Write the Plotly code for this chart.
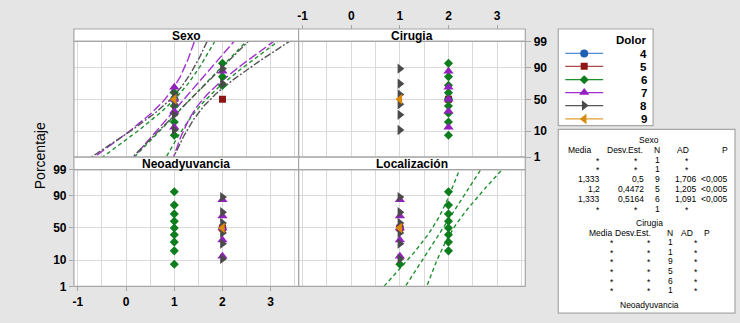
import math
from statistics import NormalDist
import plotly.graph_objects as go

W, H = 740, 323

# ---------------- data ----------------
dolor_levels = ["4", "5", "6", "7", "8", "9"]
panel_titles = ["Sexo", "Cirugia", "Neoadyuvancia", "Localización"]

# plotting positions (percent), per group size
pct_n1 = [50.0]
pct_n5 = [13.0, 31.5, 50.0, 68.5, 87.0]
pct_n6 = [10.9, 26.6, 42.2, 57.8, 73.4, 89.1]
pct_n9 = [7.4, 18.1, 28.7, 39.4, 50.0, 60.6, 71.3, 81.9, 92.6]

# observed values per panel and Dolor group
sexo_d4 = [1]
sexo_d5 = [2]
sexo_d6 = [1, 1, 1, 1, 1, 1, 2, 2, 2]
sexo_d7 = [1, 1, 1, 1, 2]
sexo_d8 = [1, 1, 1, 1, 2, 2]
sexo_d9 = [1]

cirugia_d4 = [2]
cirugia_d5 = [2]
cirugia_d6 = [2, 2, 2, 2, 2, 2, 2, 2, 2]
cirugia_d7 = [2, 2, 2, 2, 2]
cirugia_d8 = [1, 1, 1, 1, 1, 1]
cirugia_d9 = [1]

neo_d4 = [2]
neo_d5 = [2]
neo_d6 = [1, 1, 1, 1, 1, 1, 1, 1, 1]
neo_d7 = [2, 2, 2, 2, 2]
neo_d8 = [2, 2, 2, 2, 2, 2]
neo_d9 = [2]

loc_d4 = [1]
loc_d5 = [1]
loc_d6 = [1, 2, 2, 2, 2, 2, 2, 2, 2]
loc_d7 = [1, 1, 1, 1, 1]
loc_d8 = [1, 1, 1, 1, 1, 1]
loc_d9 = [1]

# fitted normal parameters (groups with spread)
sexo_fit_groups = ["6", "7", "8"]
sexo_fit_mean = [1.333, 1.2, 1.333]
sexo_fit_sd = [0.5, 0.4472, 0.5164]
sexo_fit_n = [9, 5, 6]

loc_fit_groups = ["6"]
loc_fit_mean = [1.889]
loc_fit_sd = [0.3333]
loc_fit_n = [9]

# statistics table text
sexo_media = ["*", "*", "1,333", "1,2", "1,333", "*"]
sexo_desv = ["*", "*", "0,5", "0,4472", "0,5164", "*"]
sexo_n = ["1", "1", "9", "5", "6", "1"]
sexo_ad = ["*", "*", "1,706", "1,205", "1,091", "*"]
sexo_p = ["", "", "<0,005", "<0,005", "<0,005", ""]

cir_media = ["*", "*", "*", "*", "*", "*"]
cir_desv = ["*", "*", "*", "*", "*", "*"]
cir_n = ["1", "1", "9", "5", "6", "1"]
cir_ad = ["*", "*", "*", "*", "*", "*"]

prob_ticks = [1, 10, 50, 90, 99]
x_ticks = [-1, 0, 1, 2, 3]

# ---------------- styles ----------------
mcolor = {"4": "#1f5fb4", "5": "#8e1616", "6": "#0d7d1d", "7": "#9420c0",
          "8": "#4a4a4a", "9": "#d98a0a"}
lcolor = {"4": "#4f8fd6", "5": "#b04848", "6": "#1f8f2f", "7": "#a030d0",
          "8": "#555555", "9": "#e0a030"}
msym = {"4": "circle", "5": "square", "6": "diamond", "7": "triangle-up",
        "8": "triangle-right", "9": "triangle-left"}
msize = {"4": 8, "5": 7, "6": 7, "7": 9, "8": 9, "9": 9}
ldash = {"6": "4px,3px", "7": "9px,3px", "8": "7px,2px,2px,2px"}

GRID = "#dadada"
BORDER = "#a6a6a6"
nd = NormalDist()


def z(p):
    return nd.inv_cdf(p / 100.0)


def px(x):
    return x / W


def py(y):
    return 1 - y / H


pct_for = {1: pct_n1, 5: pct_n5, 6: pct_n6, 9: pct_n9}

panel_data = [
    [sexo_d4, sexo_d5, sexo_d6, sexo_d7, sexo_d8, sexo_d9],
    [cirugia_d4, cirugia_d5, cirugia_d6, cirugia_d7, cirugia_d8, cirugia_d9],
    [neo_d4, neo_d5, neo_d6, neo_d7, neo_d8, neo_d9],
    [loc_d4, loc_d5, loc_d6, loc_d7, loc_d8, loc_d9],
]
panel_fits = [
    (sexo_fit_groups, sexo_fit_mean, sexo_fit_sd, sexo_fit_n),
    ([], [], [], []),
    ([], [], [], []),
    (loc_fit_groups, loc_fit_mean, loc_fit_sd, loc_fit_n),
]

# layout geometry (pixels)
XL = [73, 298, 525]
TOP_HDR = (23, 36)
TOP_PLOT = (36, 157)
BOT_HDR = (157, 170)
BOT_PLOT = (170, 292)
xdom = [(XL[0], XL[1]), (XL[1], XL[2]), (XL[0], XL[1]), (XL[1], XL[2])]
ydom = [TOP_PLOT, TOP_PLOT, BOT_PLOT, BOT_PLOT]
hdr = [TOP_HDR, TOP_HDR, BOT_HDR, BOT_HDR]

XR = [-1.083, 3.58]
ZR = [z(1), z(99)]

fig = go.Figure()

zgrid = [ZR[0] - 0.2 + i * (ZR[1] - ZR[0] + 0.4) / 80 for i in range(81)]

for k in range(4):
    ax = "" if k == 0 else str(k + 1)
    xa, ya = "x" + ax, "y" + ax
    groups, means, sds, ns = panel_fits[k]
    for g, m, s, n in zip(groups, means, sds, ns):
        cen = [m + s * zz for zz in zgrid]
        hw = [1.96 * s * math.sqrt(1.0 / n + zz * zz / (2.0 * (n - 1))) for zz in zgrid]
        for xs in (cen, [c - h for c, h in zip(cen, hw)], [c + h for c, h in zip(cen, hw)]):
            fig.add_trace(go.Scatter(
                x=xs, y=zgrid, xaxis=xa, yaxis=ya, mode="lines",
                line=dict(color=lcolor[g], width=1.4, dash=ldash[g]),
                hoverinfo="skip", showlegend=False))
    for g, vals in zip(dolor_levels, panel_data[k]):
        pcts = pct_for[len(vals)]
        fig.add_trace(go.Scatter(
            x=vals, y=[z(p) for p in pcts], xaxis=xa, yaxis=ya, mode="markers",
            marker=dict(symbol=msym[g], size=msize[g], color=mcolor[g],
                        line=dict(width=0)),
            showlegend=False, name=g))

tickfont = dict(family="Arial", size=12, color="black", weight="bold")

for k in range(4):
    sfx = "" if k == 0 else str(k + 1)
    xd = [px(xdom[k][0]), px(xdom[k][1])]
    yd = [py(ydom[k][1]), py(ydom[k][0])]
    xax = dict(domain=xd, range=XR, anchor="y" + sfx, tickvals=x_ticks,
               ticktext=[str(t) for t in x_ticks], showgrid=True, gridcolor=GRID,
               gridwidth=1, zeroline=False, showline=False,
               minor=dict(dtick=0.5, tick0=0, showgrid=True, gridcolor=GRID, gridwidth=1),
               showticklabels=False, ticks="", tickfont=tickfont)
    yax = dict(domain=yd, range=ZR, anchor="x" + sfx, tickvals=[z(p) for p in prob_ticks],
               ticktext=[str(p) for p in prob_ticks], showgrid=True, gridcolor=GRID,
               zeroline=False, showline=False, showticklabels=False, ticks="",
               tickfont=tickfont)
    if k == 1:
        xax.update(side="top", anchor="free", position=py(TOP_HDR[0]),
                   showticklabels=True, ticks="outside", ticklen=4, tickcolor=BORDER)
        yax.update(side="right", showticklabels=True, ticks="outside", ticklen=5,
                   tickcolor=BORDER)
    if k == 2:
        xax.update(side="bottom", showticklabels=True, ticks="outside", ticklen=4,
                   tickcolor=BORDER)
        yax.update(side="left", showticklabels=True, ticks="outside", ticklen=4,
                   tickcolor=BORDER)
    fig.layout["xaxis" + sfx] = xax
    fig.layout["yaxis" + sfx] = yax

# legend axis (pixel coordinates inside the legend box)
LEG = (558, 23, 653, 124)
fig.layout["xaxis5"] = dict(domain=[px(LEG[0]), px(LEG[2])], range=[LEG[0], LEG[2]],
                            visible=False, anchor="y5")
fig.layout["yaxis5"] = dict(domain=[py(LEG[3]), py(LEG[1])], range=[LEG[3], LEG[1]],
                            visible=False, anchor="x5")

shapes = []
# panel frames and header strips
for k in range(4):
    shapes.append(dict(type="rect", xref="paper", yref="paper",
                       x0=px(xdom[k][0]), x1=px(xdom[k][1]),
                       y0=py(hdr[k][1]), y1=py(hdr[k][0]),
                       fillcolor="white", line=dict(color=BORDER, width=1.2), layer="above"))
    shapes.append(dict(type="rect", xref="paper", yref="paper",
                       x0=px(xdom[k][0]), x1=px(xdom[k][1]),
                       y0=py(ydom[k][1]), y1=py(ydom[k][0]),
                       line=dict(color=BORDER, width=1.2), layer="above"))
# legend and statistics boxes
shapes.append(dict(type="rect", xref="paper", yref="paper", x0=px(LEG[0]), x1=px(LEG[2]),
                   y0=py(LEG[3]), y1=py(LEG[1]), fillcolor="white",
                   line=dict(color=BORDER, width=1.2), layer="below"))
STAT = (558, 128, 735, 320)
shapes.append(dict(type="rect", xref="paper", yref="paper", x0=px(STAT[0]), x1=px(STAT[2]),
                   y0=py(STAT[3]), y1=py(STAT[1]), fillcolor="white",
                   line=dict(color=BORDER, width=1.2), layer="below"))

# legend entries
leg_rows = [48.5, 62, 76, 89.5, 103, 117]
for g, ry in zip(dolor_levels, leg_rows):
    fig.add_trace(go.Scatter(x=[565, 603], y=[ry, ry], xaxis="x5", yaxis="y5", mode="lines",
                             line=dict(color=lcolor[g], width=1.2), hoverinfo="skip",
                             showlegend=False))
    fig.add_trace(go.Scatter(x=[584], y=[ry], xaxis="x5", yaxis="y5", mode="markers",
                             marker=dict(symbol=msym[g], size=msize[g], color=mcolor[g]),
                             hoverinfo="skip", showlegend=False))

ann = []


def text(t, x, y, size=8.5, anchor="center", bold=False, **kw):
    ann.append(dict(text=t, x=px(x), y=py(y), xref="paper", yref="paper",
                    xanchor=anchor, yanchor="middle", showarrow=False, borderpad=0,
                    font=dict(family="Arial", size=size, color="black",
                              weight="bold" if bold else "normal"), **kw))


for k in range(4):
    text(panel_titles[k], (xdom[k][0] + xdom[k][1]) / 2, (hdr[k][0] + hdr[k][1]) / 2 + 0.5,
         size=12, bold=True)

text("Porcentaje", 39, 155, size=14, textangle=-90)

text("Dolor", 648, 35, size=11.5, bold=True, anchor="right")
for g, ry in zip(dolor_levels, leg_rows):
    text(g, 648, ry + 0.5, size=11.5, bold=True, anchor="right")

# statistics table: Sexo
text("Sexo", 649, 139)
for t, x in zip(["Media", "Desv.Est.", "N", "AD", "P"], [579, 625, 657, 683, 725]):
    text(t, x, 149.5)
sexo_rows = [159.5, 169.5, 179.5, 190, 200.5, 211]
for i, ry in enumerate(sexo_rows):
    m, d, n, a, p = sexo_media[i], sexo_desv[i], sexo_n[i], sexo_ad[i], sexo_p[i]
    if m == "*":
        text(m, 598, ry + 1)
    else:
        text(m, 601, ry, anchor="right")
    if d == "*":
        text(d, 636, ry + 1)
    else:
        text(d, 645, ry, anchor="right")
    text(n, 657, ry)
    if a == "*":
        text(a, 687, ry + 1)
    else:
        text(a, 698, ry, anchor="right")
    if p:
        text(p, 729, ry, anchor="right")

# statistics table: Cirugia
text("Cirugia", 649, 226)
for t, x in zip(["Media", "Desv.Est.", "N", "AD", "P"], [600, 633, 670, 687, 707]):
    text(t, x, 236)
cir_rows = [246, 256, 266, 276, 286, 296]
for i, ry in enumerate(cir_rows):
    text(cir_media[i], 612, ry + 1)
    text(cir_desv[i], 649, ry + 1)
    text(cir_n[i], 670, ry)
    text(cir_ad[i], 696, ry + 1)

text("Neoadyuvancia", 649, 311)

fig.update_layout(
    width=W, height=H, margin=dict(l=0, r=0, t=0, b=0, pad=0),
    paper_bgcolor="#e5e5e5", plot_bgcolor="white",
    showlegend=False, shapes=shapes, annotations=ann,
    font=dict(family="Arial", color="black"),
)

fig.write_html("out.html")
